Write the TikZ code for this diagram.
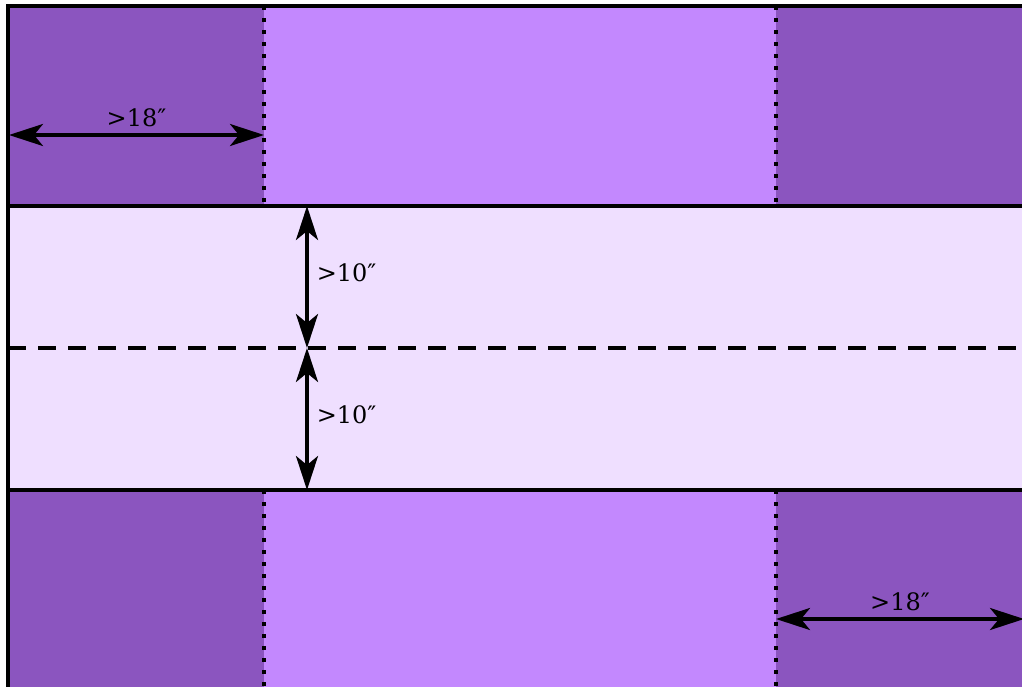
\documentclass[tikz,border=0pt]{standalone}
\usepackage{fontspec}
\setmainfont{DejaVu Serif}
\usetikzlibrary{arrows.meta}
\definecolor{cornerpurple}{HTML}{8B55BF}
\definecolor{sidepurple}{HTML}{C388FE}
\definecolor{aislepurple}{HTML}{EFDFFF}
\tikzset{>={Stealth[length=17pt,width=11pt,inset=4.5pt]}}
\tikzset{
  edge/.style={line width=2pt},
  fold/.style={line width=1.8pt, dash pattern=on 1.8pt off 4.2pt},
  midline/.style={line width=1.8pt, dash pattern=on 9pt off 6pt},
  measure/.style={<->, line width=1.8pt},
  dimlabel/.style={font=\fontsize{12}{14}\selectfont, inner sep=1pt}
}

\begin{document}
\begin{tikzpicture}[x=0.5pt,y=-0.5pt]
    \useasboundingbox (0,0) rectangle (1022,686);
    \clip (0,0) rectangle (1022,686);
    % bands
    \fill[aislepurple] (8,206) rectangle (1040,490);
    \fill[sidepurple] (264,6) rectangle (776,206);
    \fill[sidepurple] (264,490) rectangle (776,700);
    \fill[cornerpurple] (8,6) rectangle (264,206);
    \fill[cornerpurple] (776,6) rectangle (1040,206);
    \fill[cornerpurple] (8,490) rectangle (264,700);
    \fill[cornerpurple] (776,490) rectangle (1040,700);
    % fold lines
    \draw[fold] (264,6) -- (264,206);
    \draw[fold] (776,6) -- (776,206);
    \draw[fold] (264,490) -- (264,700);
    \draw[fold] (776,490) -- (776,700);
    \draw[midline] (8,348) -- (1040,348);
    % outline
    \draw[edge] (1040,6) -- (8,6) -- (8,700);
    \draw[edge] (8,206) -- (1040,206);
    \draw[edge] (8,490) -- (1040,490);
    % measurements
    \coordinate (topL) at (9,135);
    \coordinate (topR) at (264,135);
    \coordinate (aisleT) at (307,206);
    \coordinate (aisleM) at (307,348);
    \coordinate (aisleB) at (307,490);
    \coordinate (botL) at (776,619);
    \coordinate (botR) at (1024,619);
    \draw[measure] (topL) -- node[dimlabel, above=2pt] (w1) {>18″} (topR);
    \draw[measure] (aisleT) -- node[dimlabel, right=3pt, yshift=2pt] (h1) {>10″} (aisleM);
    \draw[measure] (aisleM) -- node[dimlabel, right=3pt, yshift=2pt] (h2) {>10″} (aisleB);
    \draw[measure] (botL) -- node[dimlabel, above=2pt] (w2) {>18″} (botR);
\end{tikzpicture}
\end{document}
